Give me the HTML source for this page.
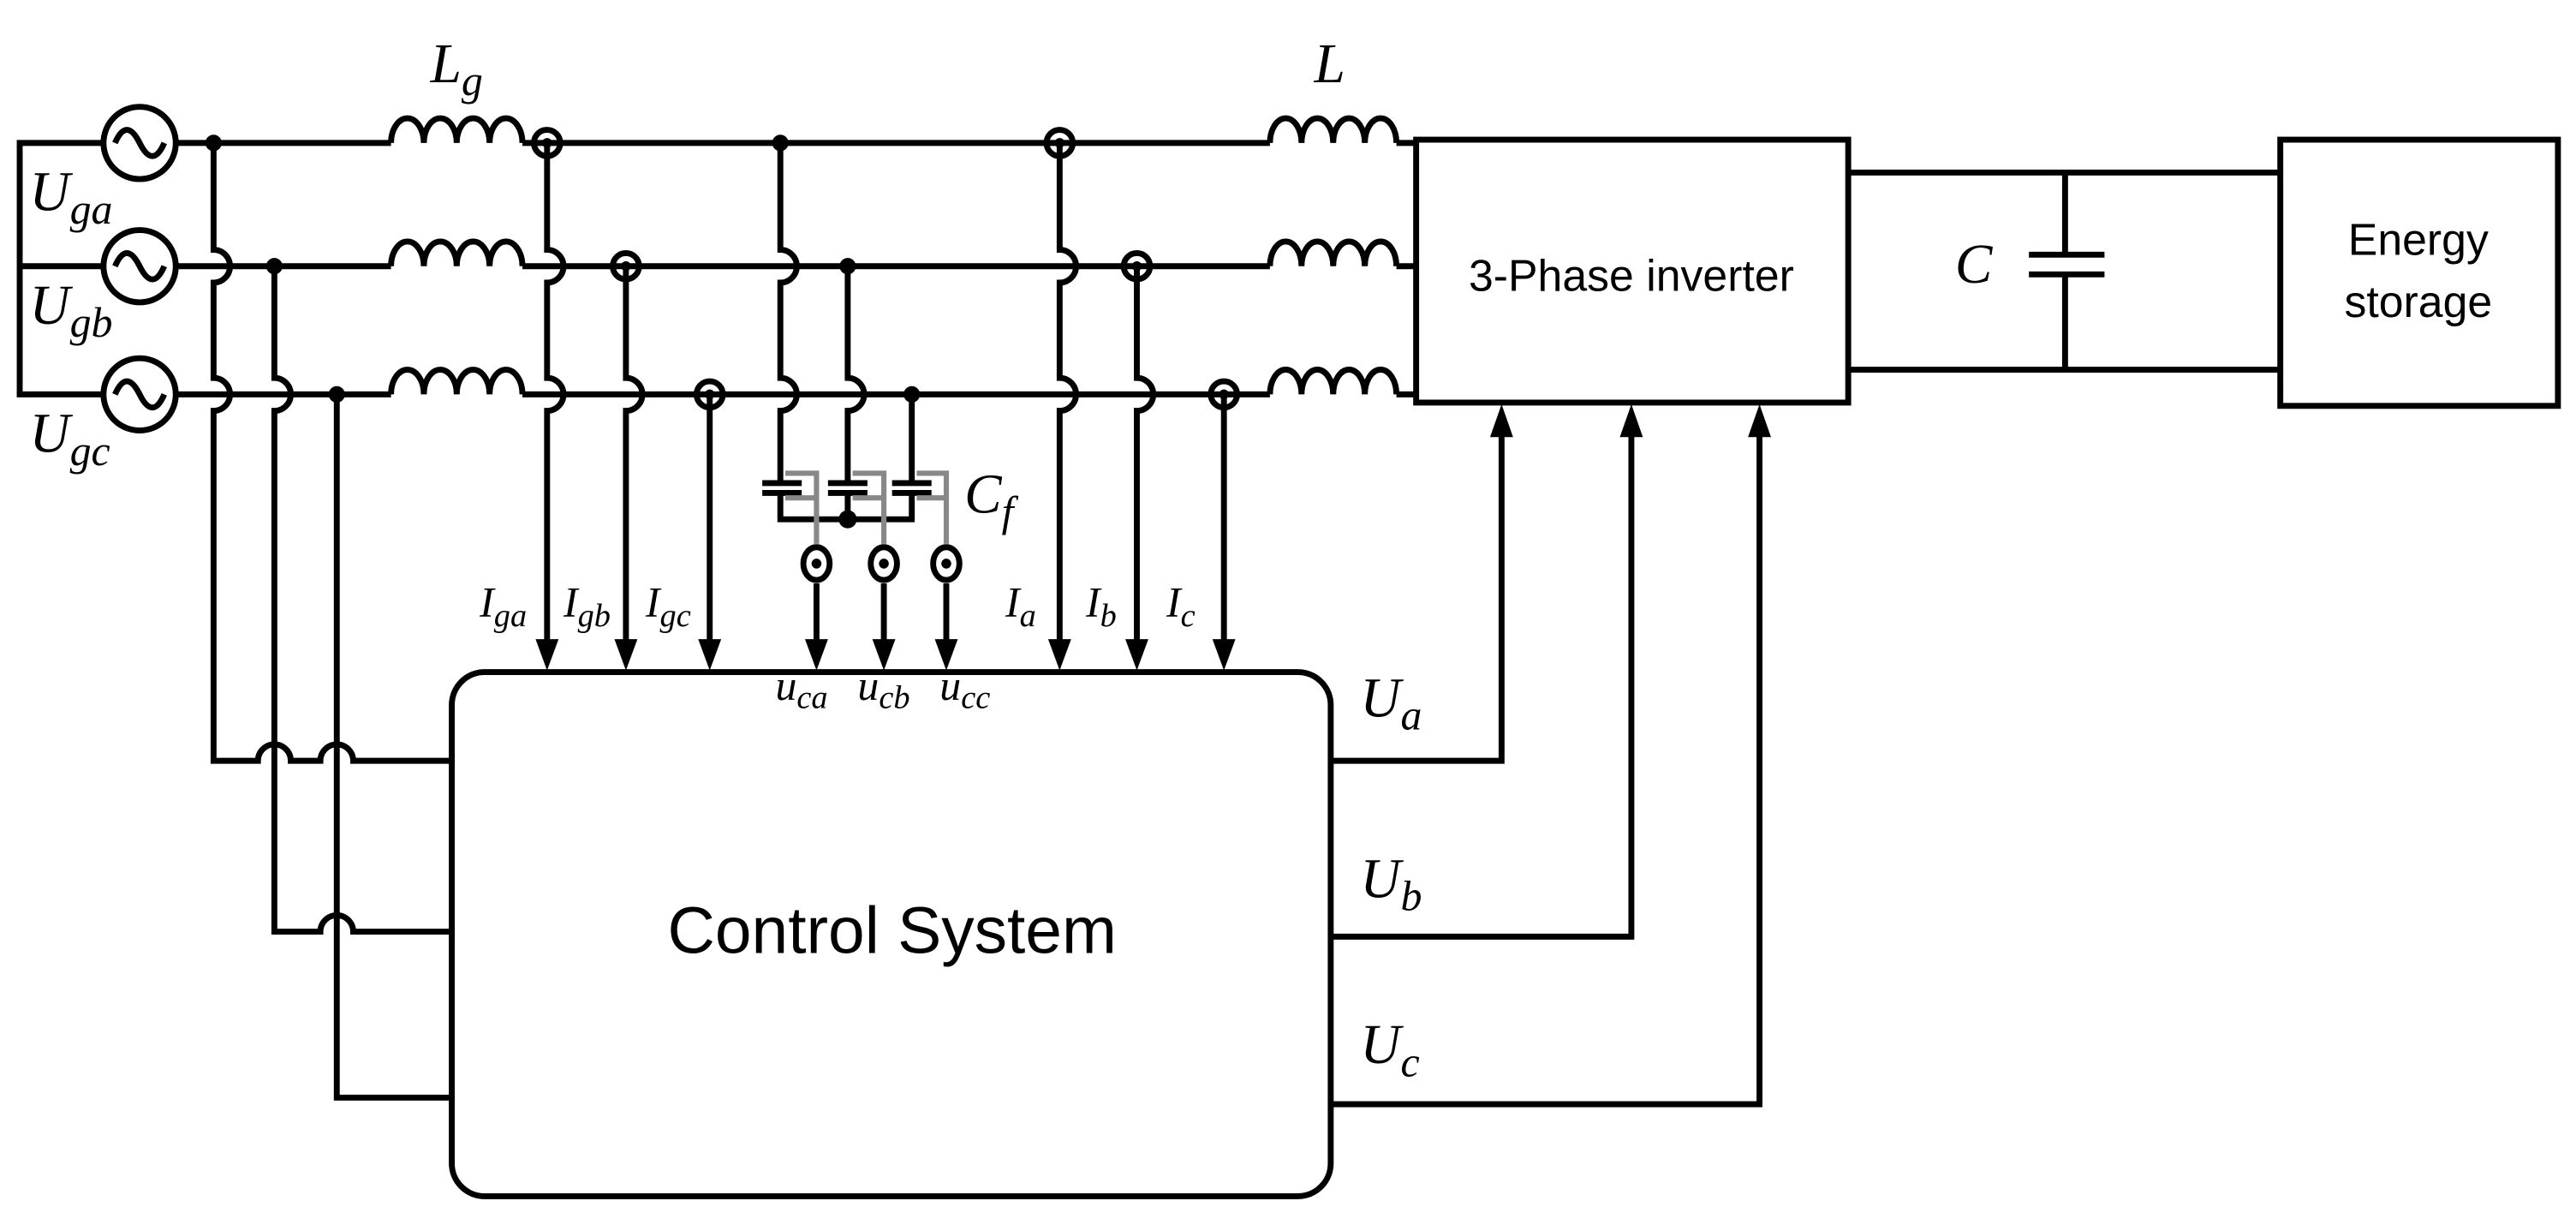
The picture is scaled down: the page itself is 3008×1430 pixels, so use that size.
<!DOCTYPE html>
<html><head><meta charset="utf-8"><style>
html,body{margin:0;padding:0;background:#fff;}
svg{display:block;}
.m{font-family:"Liberation Serif",serif;font-style:italic;}
.s{font-family:"Liberation Sans",sans-serif;}
</style></head><body>
<svg width="3008" height="1430" viewBox="0 0 1568 745.5" preserveAspectRatio="none" xmlns="http://www.w3.org/2000/svg">
<g fill="none" stroke="#000" stroke-width="3.6">
<path d="M63 87 H12 V240 H63 M12 162 H63"/>
<circle cx="85" cy="87" r="22"/><circle cx="85" cy="162" r="22"/><circle cx="85" cy="240" r="22"/>
<path d="M70 87 q7 -16 15 0 t15 0 M70 162 q7 -16 15 0 t15 0 M70 240 q7 -16 15 0 t15 0"/>
<path d="M107 87 H238 M318 87 H773 M850 87 H862"/>
<path d="M107 162 H238 M318 162 H773 M850 162 H862"/>
<path d="M107 240 H238 M318 240 H773 M850 240 H862"/>
<path d="M238 87 a10 15 0 0 1 20 0 a10 15 0 0 1 20 0 a10 15 0 0 1 20 0 a10 15 0 0 1 20 0"/>
<path d="M238 162 a10 15 0 0 1 20 0 a10 15 0 0 1 20 0 a10 15 0 0 1 20 0 a10 15 0 0 1 20 0"/>
<path d="M238 240 a10 15 0 0 1 20 0 a10 15 0 0 1 20 0 a10 15 0 0 1 20 0 a10 15 0 0 1 20 0"/>
<path d="M773 87 a9.6 15 0 0 1 19.25 0 a9.6 15 0 0 1 19.25 0 a9.6 15 0 0 1 19.25 0 a9.6 15 0 0 1 19.25 0"/>
<path d="M773 162 a9.6 15 0 0 1 19.25 0 a9.6 15 0 0 1 19.25 0 a9.6 15 0 0 1 19.25 0 a9.6 15 0 0 1 19.25 0"/>
<path d="M773 240 a9.6 15 0 0 1 19.25 0 a9.6 15 0 0 1 19.25 0 a9.6 15 0 0 1 19.25 0 a9.6 15 0 0 1 19.25 0"/>
<path d="M130 87 V152 a10 10 0 0 1 0 20 V230 a10 10 0 0 1 0 20 V463 H157 a10 10 0 0 1 20 0 H195 a10 10 0 0 1 20 0 H275"/>
<path d="M167 162 V230 a10 10 0 0 1 0 20 V567 H195 a10 10 0 0 1 20 0 H275"/>
<path d="M205 240 V668 H275"/>
<path d="M333 87 V152 a10 10 0 0 1 0 20 V230 a10 10 0 0 1 0 20 V392"/>
<path d="M381 162 V230 a10 10 0 0 1 0 20 V392"/>
<path d="M432 240 V392"/>
<path d="M645 87 V152 a10 10 0 0 1 0 20 V230 a10 10 0 0 1 0 20 V392"/>
<path d="M692 162 V230 a10 10 0 0 1 0 20 V392"/>
<path d="M745 240 V392"/>
<path d="M475 87 V152 a10 10 0 0 1 0 20 V230 a10 10 0 0 1 0 20 V294 M475 299 V316 H555 V299 M555 240 V294"/>
<path d="M516 162 V230 a10 10 0 0 1 0 20 V294 M516 299 V316"/>
<path d="M464 294 H488 M464 300 H488 M504 294 H528 M504 300 H528 M543 294 H567 M543 300 H567"/>
<path d="M497 355 V392 M538 355 V392 M576 355 V392"/>
<rect x="862" y="85" width="263" height="160"/>
<rect x="1388" y="85" width="169" height="162"/>
<path d="M1125 105 H1388 M1125 225 H1388 M1257 105 V155 M1257 167 V225 M1235 155 H1281 M1235 167 H1281"/>
<rect x="275" y="409" width="535" height="319" rx="20"/>
<path d="M810 463 H914 V262 M810 570 H993 V262 M810 672 H1071 V262"/>
</g>
<g fill="none" stroke="#888" stroke-width="3.2">
<path d="M478 288 H497 V331 M478 303 H497"/>
<path d="M519 288 H538 V331 M519 303 H538"/>
<path d="M558 288 H576 V331 M558 303 H576"/>
</g>
<g fill="none" stroke="#000" stroke-width="3.6">
<circle cx="333" cy="87" r="8"/><circle cx="381" cy="162" r="8"/><circle cx="432" cy="240" r="8"/>
<circle cx="645" cy="87" r="8"/><circle cx="692" cy="162" r="8"/><circle cx="745" cy="240" r="8"/>
<ellipse cx="497" cy="343" rx="8" ry="10"/><ellipse cx="538" cy="343" rx="8" ry="10"/><ellipse cx="576" cy="343" rx="8" ry="10"/>
</g>
<g fill="#000">
<circle cx="333" cy="87" r="3"/><circle cx="381" cy="162" r="3"/><circle cx="432" cy="240" r="3"/>
<circle cx="645" cy="87" r="3"/><circle cx="692" cy="162" r="3"/><circle cx="745" cy="240" r="3"/>
<circle cx="497" cy="343" r="3"/><circle cx="538" cy="343" r="3"/><circle cx="576" cy="343" r="3"/>
<circle cx="130" cy="87" r="5"/><circle cx="167" cy="162" r="5"/><circle cx="205" cy="240" r="5"/>
<circle cx="475" cy="87" r="5"/><circle cx="516" cy="162" r="5"/><circle cx="555" cy="240" r="5"/>
<circle cx="516" cy="316" r="5.5"/>
<path d="M326 389 L340 389 L333 408 Z"/><path d="M374 389 L388 389 L381 408 Z"/><path d="M425 389 L439 389 L432 408 Z"/>
<path d="M490 389 L504 389 L497 408 Z"/><path d="M531 389 L545 389 L538 408 Z"/><path d="M569 389 L583 389 L576 408 Z"/>
<path d="M638 389 L652 389 L645 408 Z"/><path d="M685 389 L699 389 L692 408 Z"/><path d="M738 389 L752 389 L745 408 Z"/>
<path d="M907 266 L921 266 L914 246 Z"/><path d="M986 266 L1000 266 L993 246 Z"/><path d="M1064 266 L1078 266 L1071 246 Z"/>
</g>
<g class="m" fill="#000">
<text x="18" y="128" font-size="34">U<tspan font-size="26" dy="8">ga</tspan></text>
<text x="18" y="197" font-size="34">U<tspan font-size="26" dy="8">gb</tspan></text>
<text x="18" y="275" font-size="34">U<tspan font-size="26" dy="8">gc</tspan></text>
<text x="262" y="50" font-size="34">L<tspan font-size="26" dy="8">g</tspan></text>
<text x="800" y="50" font-size="34">L</text>
<text x="292" y="375" font-size="26">I<tspan font-size="20" dy="6">ga</tspan></text>
<text x="343" y="375" font-size="26">I<tspan font-size="20" dy="6">gb</tspan></text>
<text x="393" y="375" font-size="26">I<tspan font-size="20" dy="6">gc</tspan></text>
<text x="612" y="375" font-size="26">I<tspan font-size="20" dy="6">a</tspan></text>
<text x="661" y="375" font-size="26">I<tspan font-size="20" dy="6">b</tspan></text>
<text x="710" y="375" font-size="26">I<tspan font-size="20" dy="6">c</tspan></text>
<text x="472" y="426" font-size="26">u<tspan font-size="20" dy="5">ca</tspan></text>
<text x="522" y="426" font-size="26">u<tspan font-size="20" dy="5">cb</tspan></text>
<text x="572" y="426" font-size="26">u<tspan font-size="20" dy="5">cc</tspan></text>
<text x="587" y="312" font-size="34">C<tspan font-size="26" dy="8">f</tspan></text>
<text x="1190" y="172" font-size="34">C</text>
<text x="828" y="436" font-size="34">U<tspan font-size="26" dy="8">a</tspan></text>
<text x="828" y="546" font-size="34">U<tspan font-size="26" dy="8">b</tspan></text>
<text x="828" y="647" font-size="34">U<tspan font-size="26" dy="8">c</tspan></text>
</g>
<g class="s" fill="#000" text-anchor="middle">
<text x="993" y="177" font-size="27">3-Phase inverter</text>
<text x="1472" y="155" font-size="27">Energy</text>
<text x="1472" y="193" font-size="27">storage</text>
<text x="543" y="580" font-size="40">Control System</text>
</g>
</svg>
</body></html>
